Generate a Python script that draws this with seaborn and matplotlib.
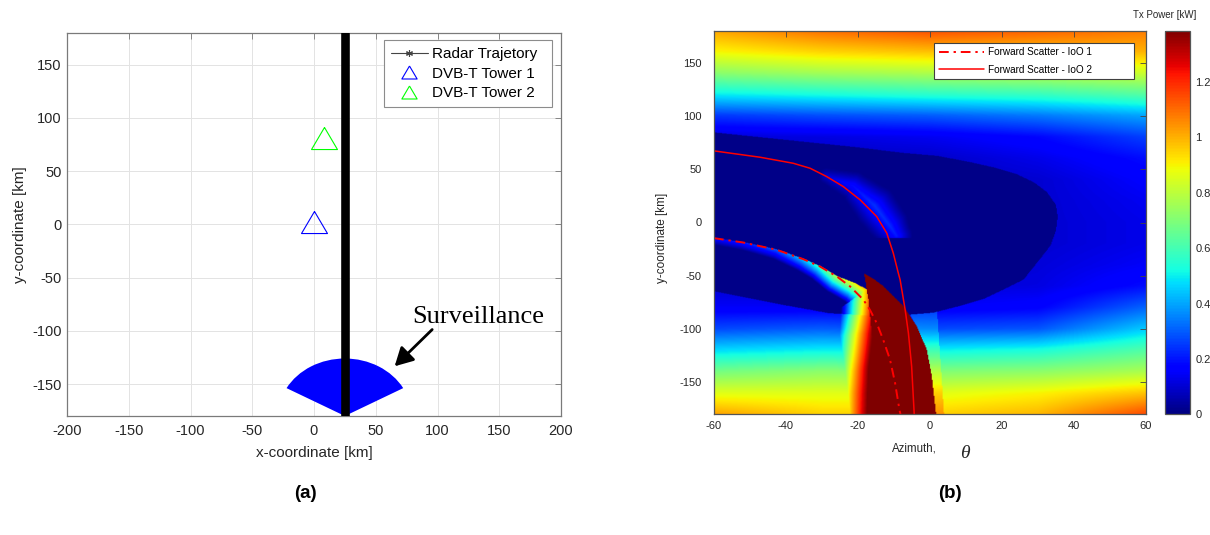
import numpy as np
import matplotlib
matplotlib.use("Agg")
import matplotlib.pyplot as plt
import seaborn as sns
from matplotlib.path import Path
from matplotlib.lines import Line2D
from matplotlib.patches import Wedge

# ------------------------------------------------------------------ data (a)
traj_x = [25, 25]
traj_y = [-180, 180]
tower1_x, tower1_y = [0], [2]
tower2_x, tower2_y = [8], [81]
surv_center = (25, -180)
surv_radius = 54
surv_angles = (29, 151)
xticks_a = [-200, -150, -100, -50, 0, 50, 100, 150, 200]
yticks = [-150, -100, -50, 0, 50, 100, 150]

# ------------------------------------------------------------------ data (b)
# background Tx power read on a coarse grid (rows = y, cols = azimuth)
bg_x = [-60, -30, 0, 30, 60]
bg_y = [180, 160, 140, 120, 100, 80, 60, 40, 20, 0, -20, -40, -60, -80,
        -100, -120, -140, -160, -180]
bg_power = [
    [1.02, 1.10, 1.15, 1.12, 1.08],
    [0.90, 0.95, 0.98, 0.98, 1.00],
    [0.72, 0.76, 0.78, 0.80, 0.83],
    [0.50, 0.53, 0.56, 0.58, 0.63],
    [0.25, 0.28, 0.30, 0.34, 0.40],
    [0.11, 0.12, 0.14, 0.18, 0.26],
    [0.08, 0.08, 0.09, 0.13, 0.19],
    [0.07, 0.07, 0.08, 0.10, 0.16],
    [0.07, 0.07, 0.08, 0.10, 0.14],
    [0.07, 0.07, 0.08, 0.10, 0.13],
    [0.07, 0.07, 0.08, 0.10, 0.13],
    [0.08, 0.08, 0.09, 0.11, 0.15],
    [0.10, 0.10, 0.11, 0.12, 0.19],
    [0.15, 0.15, 0.15, 0.17, 0.31],
    [0.27, 0.30, 0.27, 0.29, 0.45],
    [0.47, 0.50, 0.50, 0.53, 0.62],
    [0.68, 0.72, 0.70, 0.72, 0.77],
    [0.86, 0.86, 0.86, 0.90, 0.97],
    [1.02, 0.95, 0.95, 0.99, 1.15],
]
# low-power zone
inner_x = [-60, -40, -20, -8, 2, 10, 18, 24, 29, 32.5, 35, 35.5, 35, 33.5, 30.5,
           26, 20, 15, 8, 1, -8, -18, -28, -42, -60]
inner_y = [84, 77, 70, 65, 62, 57, 51, 45, 37, 28, 16, 5, -8, -22, -35,
           -54, -64, -72, -79, -85, -87.5, -87.5, -85.5, -77, -65]
inner_power = 0.015
# lighter sliver right of the saturated zone
sliver_x = [1.85, 3.9, 1.7, 0.5, -0.9, -3.7, -6.0]
sliver_y = [-77, -180, -180, -144.4, -119.4, -97.5, -84]
sliver_boost = 0.09
# saturated zone
sector_x = [-18.3, -15.8, -13.0, -7.4, -3.7, -0.9, 0.5, 1.7, -14.3, -15.3, -16.2, -17.1]
sector_y = [-48.1, -53, -60, -78.75, -97.5, -119.4, -144.4, -180, -180, -135, -103.75, -72.5]
sector_power = 1.6
# bright ridge along IoO 1
ridge1_x = [-60, -51.9, -42.6, -35.2, -30.6, -25.9, -21.0, -17.6, -17.1, -16.2, -15.3, -14.3]
ridge1_y = [-14.7, -18.75, -25.6, -34.4, -41.25, -50.6, -57, -63, -72.5, -103.75, -135, -180]
ridge1_peak = [0.18, 0.22, 0.30, 0.45, 0.60, 0.80, 0.92, 1.0, 1.08, 1.35, 1.55, 1.65]
ridge1_width = [7, 8, 10, 13, 15, 18, 21, 24, 27, 32, 30, 28]
# faint glow along IoO 2
glow2_x = [-28.7, -21.3, -15.3, -11.1, -9.3]
glow2_y = [43.1, 33.75, 15, -3.75, -13]
glow2_peak = [0.11, 0.19, 0.24, 0.23, 0.21]
glow2_width = [8, 15, 22, 20, 16]
glow2_ymin = -15

# forward-scatter curves
ioo1_x = [-60, -51.9, -42.6, -35.2, -30.6, -25.9, -22.2, -18.5, -16.7, -14.8, -13.0,
          -11.1, -9.7, -8.5, -8.2]
ioo1_y = [-14.7, -18.75, -25.6, -34.4, -41.25, -50.6, -60, -72.5, -81.9, -94.4, -110,
          -128.75, -150.6, -175.6, -180]
ioo2_x = [-60, -47.2, -38, -33.3, -28.7, -24.1, -19.4, -14.8, -12, -10.2, -8.8, -8.3,
          -6.9, -6.0, -5.1, -4.4, -4.4]
ioo2_y = [67.2, 61.25, 55.6, 50.9, 43.1, 33.75, 21.25, 5.6, -10, -28.75, -47.5, -53.75,
          -81.9, -103.75, -135, -178.75, -180]
xticks_b = [-60, -40, -20, 0, 20, 40, 60]
cbar_ticks = [0, 0.2, 0.4, 0.6, 0.8, 1.0, 1.2]
cbar_labels = ["0", "0.2", "0.4", "0.6", "0.8", "1", "1.2"]
vmax = 1.385

# ------------------------------------------------------------------ style
sns.set_style("white")
plt.rcParams["font.family"] = ["Liberation Sans", "DejaVu Sans"]
plt.rcParams["axes.unicode_minus"] = False
TXT = "#262626"
# MATLAB-like triangle (wider than tall)
TRI = [(0, 0.85), (-1, -0.85), (1, -0.85), (0, 0.85)]

W_PX, H_PX = 1210, 535
fig = plt.figure(figsize=(W_PX / 100, H_PX / 100), dpi=100)


def fr(l, t, r, b):
    return [l / W_PX, 1 - b / H_PX, (r - l) / W_PX, (b - t) / H_PX]


ax1 = fig.add_axes(fr(67, 32.7, 561, 416))
ax2 = fig.add_axes(fr(714, 30.7, 1146, 414.3))
cax = fig.add_axes(fr(1165, 30.7, 1190, 414.3))

# ------------------------------------------------------------------ panel (a)
ax1.set_xlim(-200, 200)
ax1.set_ylim(-180, 180)
ax1.set_xticks(xticks_a)
ax1.set_yticks(yticks)
ax1.grid(True, color="#e3e3e3", lw=0.7)
ax1.set_axisbelow(True)
ax1.add_patch(Wedge(surv_center, surv_radius, surv_angles[0], surv_angles[1],
                    facecolor="#0000ff", edgecolor="none", zorder=2))
sns.lineplot(x=traj_x, y=traj_y, color="black", lw=6.2, sort=False, estimator=None,
             legend=False, ax=ax1, zorder=3)
ax1.plot(tower1_x, tower1_y, ls="none", marker=TRI, ms=18.7, mfc="none", mec="#0000ff",
         mew=0.8, zorder=4)
ax1.plot(tower2_x, tower2_y, ls="none", marker=TRI, ms=18.7, mfc="none", mec="#00ff00",
         mew=0.8, zorder=4)
ax1.text(79.4, -92.8, "Surveillance", family="Liberation Serif", fontsize=19,
         ha="left", va="baseline", color="black")
ax1.annotate("", xy=(65.3, -133.3), xytext=(95.7, -98.8),
             arrowprops=dict(arrowstyle="-|>,head_length=0.55,head_width=0.3",
                             color="black", lw=2.0, mutation_scale=20,
                             shrinkA=0, shrinkB=0))
handles_a = [
    Line2D([], [], color="#444444", lw=0.8, marker=(6, 2, 0), ms=5, mec="#444444",
           mew=0.8),
    Line2D([], [], ls="none", marker=TRI, ms=11, mfc="none", mec="#0000ff", mew=0.8),
    Line2D([], [], ls="none", marker=TRI, ms=11, mfc="none", mec="#00ff00", mew=0.8),
]
leg1 = ax1.legend(handles_a, ["Radar Trajetory", "DVB-T Tower 1", "DVB-T Tower 2"],
                  loc="upper left", bbox_to_anchor=(0.6417, 0.5, 0.3395, 0.481),
                  mode="expand", fontsize=11, frameon=True, fancybox=False,
                  framealpha=1, edgecolor="#8c8c8c", borderpad=0.45,
                  labelspacing=0.38, handlelength=2.4, handletextpad=0.3,
                  borderaxespad=0)
leg1.get_frame().set_linewidth(0.8)
for t in leg1.get_texts():
    t.set_color("black")
ax1.set_xlabel("x-coordinate [km]", fontsize=11, color=TXT, va="center")
ax1.set_ylabel("y-coordinate [km]", fontsize=11, color=TXT, va="center")
ax1.xaxis.set_label_coords(0.5, -0.0973)
ax1.yaxis.set_label_coords(-0.0951, 0.5)
ax1.tick_params(direction="in", length=4, width=0.6, color="#777777", labelsize=10.5,
                labelcolor=TXT, top=True, right=True)
ax1.tick_params(axis="x", pad=6)
ax1.tick_params(axis="y", pad=4)
for s in ax1.spines.values():
    s.set_color("#7a7a7a")
    s.set_linewidth(0.9)

# ------------------------------------------------------------------ panel (b) field
SX, SY = 432 / 120, 383.6 / 360
nx, ny = 480, 720
gx = -60 + (np.arange(nx) + 0.5) * 120 / nx
gy = -180 + (np.arange(ny) + 0.5) * 360 / ny
GX, GY = np.meshgrid(gx, gy)
PX, PY = GX * SX, GY * SY
pts = np.column_stack([GX.ravel(), GY.ravel()])

bgp = np.array(bg_power)[::-1]
bgy = np.array(bg_y)[::-1]
rows = np.array([np.interp(gx, bg_x, r) for r in bgp])
Z = np.array([np.interp(gy, bgy, rows[:, j]) for j in range(nx)]).T


def region(xs, ys):
    return Path(np.column_stack([xs, ys])).contains_points(pts).reshape(Z.shape)


def polyline_field(xs, ys):
    xs = np.asarray(xs, float) * SX
    ys = np.asarray(ys, float) * SY
    seg = np.hypot(np.diff(xs), np.diff(ys))
    cum = np.concatenate([[0], np.cumsum(seg)])
    best = np.full(PX.shape, np.inf)
    spos = np.zeros(PX.shape)
    side = np.zeros(PX.shape)
    for i in range(len(xs) - 1):
        dx, dy = xs[i + 1] - xs[i], ys[i + 1] - ys[i]
        t = np.clip(((PX - xs[i]) * dx + (PY - ys[i]) * dy) / (dx * dx + dy * dy), 0, 1)
        d = np.hypot(PX - (xs[i] + t * dx), PY - (ys[i] + t * dy))
        cr = dx * (PY - ys[i]) - dy * (PX - xs[i])
        upd = d < best
        best = np.where(upd, d, best)
        spos = np.where(upd, cum[i] + t * seg[i], spos)
        side = np.where(upd, np.sign(cr), side)
    return best, spos, side, cum


Z[region(sliver_x, sliver_y)] += sliver_boost
Z[region(inner_x, inner_y)] = inner_power

d2, s2, _, c2 = polyline_field(glow2_x, glow2_y)
P2 = np.interp(s2, c2, glow2_peak)
W2 = np.interp(s2, c2, glow2_width)
w2 = np.clip(1 - d2 / W2, 0, 1)
g2 = Z + (P2 - Z) * w2 ** 1.2
Z = np.where((GY > glow2_ymin) & (g2 > Z), g2, Z)

d1, s1, side1, c1 = polyline_field(ridge1_x, ridge1_y)
P1 = np.interp(s1, c1, ridge1_peak)
W1 = np.interp(s1, c1, ridge1_width)
w1 = np.clip(1 - d1 / W1, 0, 1)
g1 = Z + (P1 - Z) * w1 ** 0.9
Z = np.where((side1 <= 0) & (g1 > Z), g1, Z)

Z[region(sector_x, sector_y)] = sector_power

im = ax2.imshow(Z, extent=(-60, 60, -180, 180), origin="lower", cmap="jet",
                vmin=0, vmax=vmax, aspect="auto", interpolation="bilinear")
ax2.set_xlim(-60, 60)
ax2.set_ylim(-180, 180)

sns.lineplot(x=ioo1_x, y=ioo1_y, sort=False, estimator=None, color="red", lw=1.4,
             linestyle=(0, (5, 2.5, 1.2, 2.5)), label="Forward Scatter - IoO 1", ax=ax2)
sns.lineplot(x=ioo2_x, y=ioo2_y, sort=False, estimator=None, color="red", lw=1.1,
             label="Forward Scatter - IoO 2", ax=ax2)
leg2 = ax2.legend(loc="upper left", bbox_to_anchor=(0.5104, 0.5, 0.4618, 0.4687),
                  mode="expand", fontsize=7.2, frameon=True, fancybox=False,
                  framealpha=1, edgecolor="#404040", borderpad=0.45,
                  labelspacing=0.75, handlelength=4.5, handletextpad=0.4,
                  borderaxespad=0)
leg2.get_frame().set_linewidth(0.8)
for t in leg2.get_texts():
    t.set_color("black")

ax2.set_xticks(xticks_b)
ax2.set_yticks(yticks)
ax2.tick_params(direction="in", length=4, width=0.6, color="#444444", labelsize=8,
                labelcolor=TXT, top=True, right=True)
ax2.tick_params(axis="x", pad=4.5)
ax2.tick_params(axis="y", pad=9)
for s in ax2.spines.values():
    s.set_color("#555555")
    s.set_linewidth(0.9)
ax2.set_ylabel("y-coordinate [km]", fontsize=8.5, color=TXT, va="center")
ax2.yaxis.set_label_coords(-0.1204, 0.46)
ax2.set_xlabel("Azimuth,", fontsize=8.3, color=TXT, va="center")
ax2.xaxis.set_label_coords(0.463, -0.088)
ax2.text(0.581, -0.101, "θ", transform=ax2.transAxes, family="Liberation Serif",
         style="italic", fontsize=14, ha="center", va="center", color=TXT)

cb = fig.colorbar(im, cax=cax)
cb.set_ticks(cbar_ticks)
cb.set_ticklabels(cbar_labels)
cax.tick_params(direction="in", length=3, width=0.6, color="#444444", labelsize=8,
                labelcolor=TXT, right=True, left=False, pad=4)
cb.outline.set_edgecolor("#555555")
cb.outline.set_linewidth(0.9)
fig.text(1165 / W_PX, 1 - 15 / H_PX, "Tx Power [kW]", fontsize=7, color=TXT,
         ha="center", va="center")

fig.text(305 / W_PX, 1 - 494 / H_PX, "(a)", fontsize=13.5, fontweight="bold",
         ha="center", va="center", color="black")
fig.text(950 / W_PX, 1 - 494 / H_PX, "(b)", fontsize=13.5, fontweight="bold",
         ha="center", va="center", color="black")

fig.savefig("out.png", dpi=100)
